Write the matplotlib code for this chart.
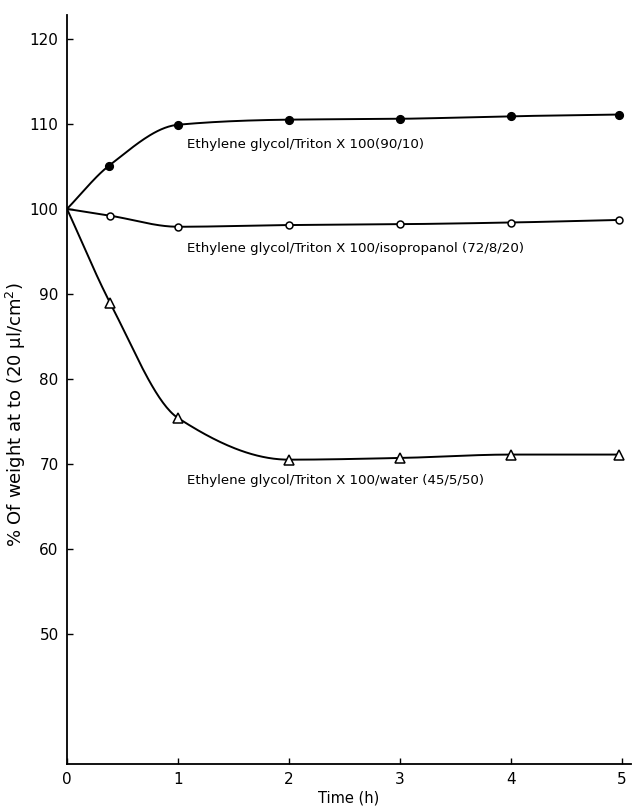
import matplotlib.pyplot as plt
import numpy as np

# Data
time_filled = [0, 0.38, 1, 2, 3, 4, 4.97]
weight_filled = [100, 105.1, 109.9, 110.5, 110.6, 110.9, 111.1]

time_open = [0, 0.39, 1, 2, 3, 4, 4.97]
weight_open = [100, 99.2, 97.9, 98.1, 98.2, 98.4, 98.7]

time_tri = [0, 0.39, 1, 2, 3, 4, 4.97]
weight_tri = [100, 88.9, 75.4, 70.5, 70.7, 71.1, 71.1]

labels = ["Ethylene glycol/Triton X 100(90/10)",
          "Ethylene glycol/Triton X 100/isopropanol (72/8/20)",
          "Ethylene glycol/Triton X 100/water (45/5/50)"]
label_pos = [(1.08, 107.6), (1.08, 95.4), (1.08, 68.1)]

xticks = [0, 1, 2, 3, 4, 5]
yticks = [50, 60, 70, 80, 90, 100, 110, 120]


# monotone cubic (pchip) just for drawing a smooth line through the points
def smooth(x, y, n=300):
    x = np.asarray(x, float)
    y = np.asarray(y, float)
    h = np.diff(x)
    d = np.diff(y) / h
    m = np.zeros_like(y)
    for k in range(1, len(x) - 1):
        if d[k - 1] * d[k] > 0:
            w1 = 2 * h[k] + h[k - 1]
            w2 = h[k] + 2 * h[k - 1]
            m[k] = (w1 + w2) / (w1 / d[k - 1] + w2 / d[k])
    m[0] = d[0]
    m[-1] = d[-1]
    xs = np.linspace(x[0], x[-1], n)
    idx = np.clip(np.searchsorted(x, xs) - 1, 0, len(x) - 2)
    t = (xs - x[idx]) / h[idx]
    h00 = 2 * t**3 - 3 * t**2 + 1
    h10 = t**3 - 2 * t**2 + t
    h01 = -2 * t**3 + 3 * t**2
    h11 = t**3 - t**2
    ys = h00 * y[idx] + h10 * h[idx] * m[idx] + h01 * y[idx + 1] + h11 * h[idx] * m[idx + 1]
    return xs, ys


fig = plt.figure(figsize=(6.4, 8.07), dpi=100)
ax = fig.add_axes([0.1047, 0.0533, 0.881, 0.928])

for tx, wy, mk, fc, ms in [(time_filled, weight_filled, 'o', 'black', 5.5),
                           (time_open, weight_open, 'o', 'white', 5),
                           (time_tri, weight_tri, '^', 'white', 7)]:
    xs, ys = smooth(tx, wy)
    ax.plot(xs, ys, color='black', linewidth=1.4, zorder=2)
    ax.plot(tx[1:], wy[1:], linestyle='none', marker=mk, markersize=ms,
            markerfacecolor=fc, markeredgecolor='black', markeredgewidth=1.1, zorder=3)

for lab, (lx, ly) in zip(labels, label_pos):
    ax.text(lx, ly, lab, fontsize=9.6, va='center', ha='left')

ax.set_xlim(0, 5.08)
ax.set_ylim(34.7, 122.8)
ax.set_xticks(xticks)
ax.set_yticks(yticks)
ax.tick_params(direction='in', length=4, width=1, labelsize=11, pad=6)
ax.spines['top'].set_visible(False)
ax.spines['right'].set_visible(False)
ax.spines['left'].set_linewidth(1.3)
ax.spines['bottom'].set_linewidth(1.3)

ax.set_xlabel("Time (h)", fontsize=10.5, labelpad=2)
ax.set_ylabel("% Of weight at to (20 \u03bcl/cm$^2$)", fontsize=13)
ax.yaxis.set_label_coords(-0.069, 0.466)

plt.savefig("out.png", dpi=100)
